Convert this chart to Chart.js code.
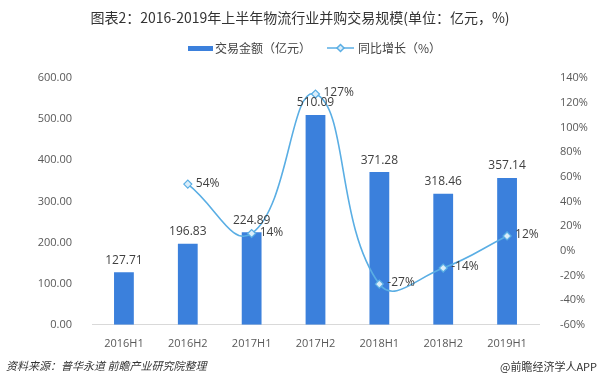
<!DOCTYPE html>
<html>
<head>
<meta charset="utf-8">
<script src="https://cdn.jsdelivr.net/npm/chart.js@4"></script>
<style>
  html, body { margin: 0; padding: 0; background: #fff; }
  #wrap { width: 600px; height: 385px; }
</style>
</head>
<body>
<div id="wrap"><canvas id="grafico" width="600" height="385"></canvas></div>
<script>
const categorias = ['2016H1', '2016H2', '2017H1', '2017H2', '2018H1', '2018H2', '2019H1'];
const valorTransacao = [127.71, 196.83, 224.89, 510.09, 371.28, 318.46, 357.14];
const crescimento = [null, 54, 14, 127, -27, -14, 12];
const ticksEsquerda = [0, 100, 200, 300, 400, 500, 600];
const ticksDireita = [-60, -40, -20, 0, 20, 40, 60, 80, 100, 120, 140];

const corBarra = '#3b80dc';
const corLinha = '#5aaee4';
const fonteCJK = '"Noto Sans CJK SC", "Noto Sans", sans-serif';

const pluginTextos = {
    id: 'textos',
    afterDraw(chart) {
        const ctx = chart.ctx;
        ctx.save();

        // titulo
        ctx.fillStyle = '#333';
        ctx.font = '14px ' + fonteCJK;
        ctx.textAlign = 'center';
        ctx.textBaseline = 'middle';
        ctx.fillText('图表2：2016-2019年上半年物流行业并购交易规模(单位：亿元，%)', 300, 18);

        // legenda
        ctx.font = '12px ' + fonteCJK;
        ctx.textAlign = 'left';
        ctx.fillStyle = corBarra;
        ctx.fillRect(188, 46, 25, 5);
        ctx.fillStyle = '#444';
        ctx.fillText('交易金额（亿元）', 215, 48);
        ctx.strokeStyle = corLinha;
        ctx.lineWidth = 1.5;
        ctx.beginPath();
        ctx.moveTo(327, 48);
        ctx.lineTo(354, 48);
        ctx.stroke();
        ctx.fillStyle = '#dbeefa';
        ctx.beginPath();
        ctx.moveTo(340.5, 44.5);
        ctx.lineTo(344, 48);
        ctx.lineTo(340.5, 51.5);
        ctx.lineTo(337, 48);
        ctx.closePath();
        ctx.fill();
        ctx.stroke();
        ctx.fillStyle = '#444';
        ctx.fillText('同比增长（%）', 358, 48);

        // rotulos das barras
        const barras = chart.getDatasetMeta(0);
        ctx.font = '12px "Open Sans", sans-serif';
        ctx.fillStyle = '#404040';
        ctx.textAlign = 'center';
        ctx.textBaseline = 'bottom';
        barras.data.forEach((el, i) => {
            ctx.fillText(valorTransacao[i].toFixed(2), el.x, el.y - 6);
        });

        // rotulos da linha
        const pontos = chart.getDatasetMeta(1);
        ctx.textAlign = 'left';
        ctx.textBaseline = 'middle';
        pontos.data.forEach((el, i) => {
            if (crescimento[i] === null) {
                return;
            }
            ctx.fillText(crescimento[i] + '%', el.x + 8, el.y - 1);
        });

        // fonte
        ctx.font = 'italic 11px ' + fonteCJK;
        ctx.fillStyle = '#333';
        ctx.textAlign = 'left';
        ctx.fillText('资料来源：普华永道 前瞻产业研究院整理', 6, 366);
        ctx.font = '11px ' + fonteCJK;
        ctx.textAlign = 'right';
        ctx.fillText('@前瞻经济学人APP', 597, 367);

        ctx.restore();
    }
};

new Chart(document.getElementById('grafico'), {
    type: 'bar',
    data: {
        labels: categorias,
        datasets: [
            {
                type: 'bar',
                label: '交易金额（亿元）',
                data: valorTransacao,
                backgroundColor: corBarra,
                yAxisID: 'y',
                categoryPercentage: 1,
                barPercentage: 0.31,
                order: 2
            },
            {
                type: 'line',
                label: '同比增长（%）',
                data: crescimento,
                borderColor: corLinha,
                borderWidth: 1.6,
                tension: 0.45,
                pointStyle: 'rectRot',
                pointRadius: 4,
                pointBackgroundColor: '#dbeefa',
                pointBorderColor: corLinha,
                pointBorderWidth: 1.2,
                yAxisID: 'y1',
                order: 1
            }
        ]
    },
    options: {
        responsive: false,
        animation: false,
        layout: { padding: { top: 78, bottom: 31, left: 0, right: 0 } },
        plugins: {
            legend: { display: false },
            title: { display: false },
            tooltip: { enabled: false }
        },
        scales: {
            x: {
                grid: { display: false },
                border: { color: '#d9d9d9' },
                ticks: { color: '#595959', font: { size: 11, family: '"Open Sans", sans-serif' }, padding: 4 }
            },
            y: {
                position: 'left',
                min: 0,
                max: 600,
                afterBuildTicks(axis) {
                    axis.ticks = ticksEsquerda.map((v) => ({ value: v }));
                },
                afterFit(axis) {
                    axis.width = 92;
                },
                grid: { display: false },
                border: { display: false },
                ticks: {
                    color: '#595959',
                    font: { size: 11, family: '"Open Sans", sans-serif' },
                    padding: 12,
                    callback: (v) => v.toFixed(2)
                }
            },
            y1: {
                position: 'right',
                min: -60,
                max: 140,
                afterBuildTicks(axis) {
                    axis.ticks = ticksDireita.map((v) => ({ value: v }));
                },
                afterFit(axis) {
                    axis.width = 61;
                },
                grid: { display: false },
                border: { display: false },
                ticks: {
                    color: '#595959',
                    font: { size: 11, family: '"Open Sans", sans-serif' },
                    padding: 13,
                    callback: (v) => v + '%'
                }
            }
        }
    },
    plugins: [pluginTextos]
});
</script>
</body>
</html>
